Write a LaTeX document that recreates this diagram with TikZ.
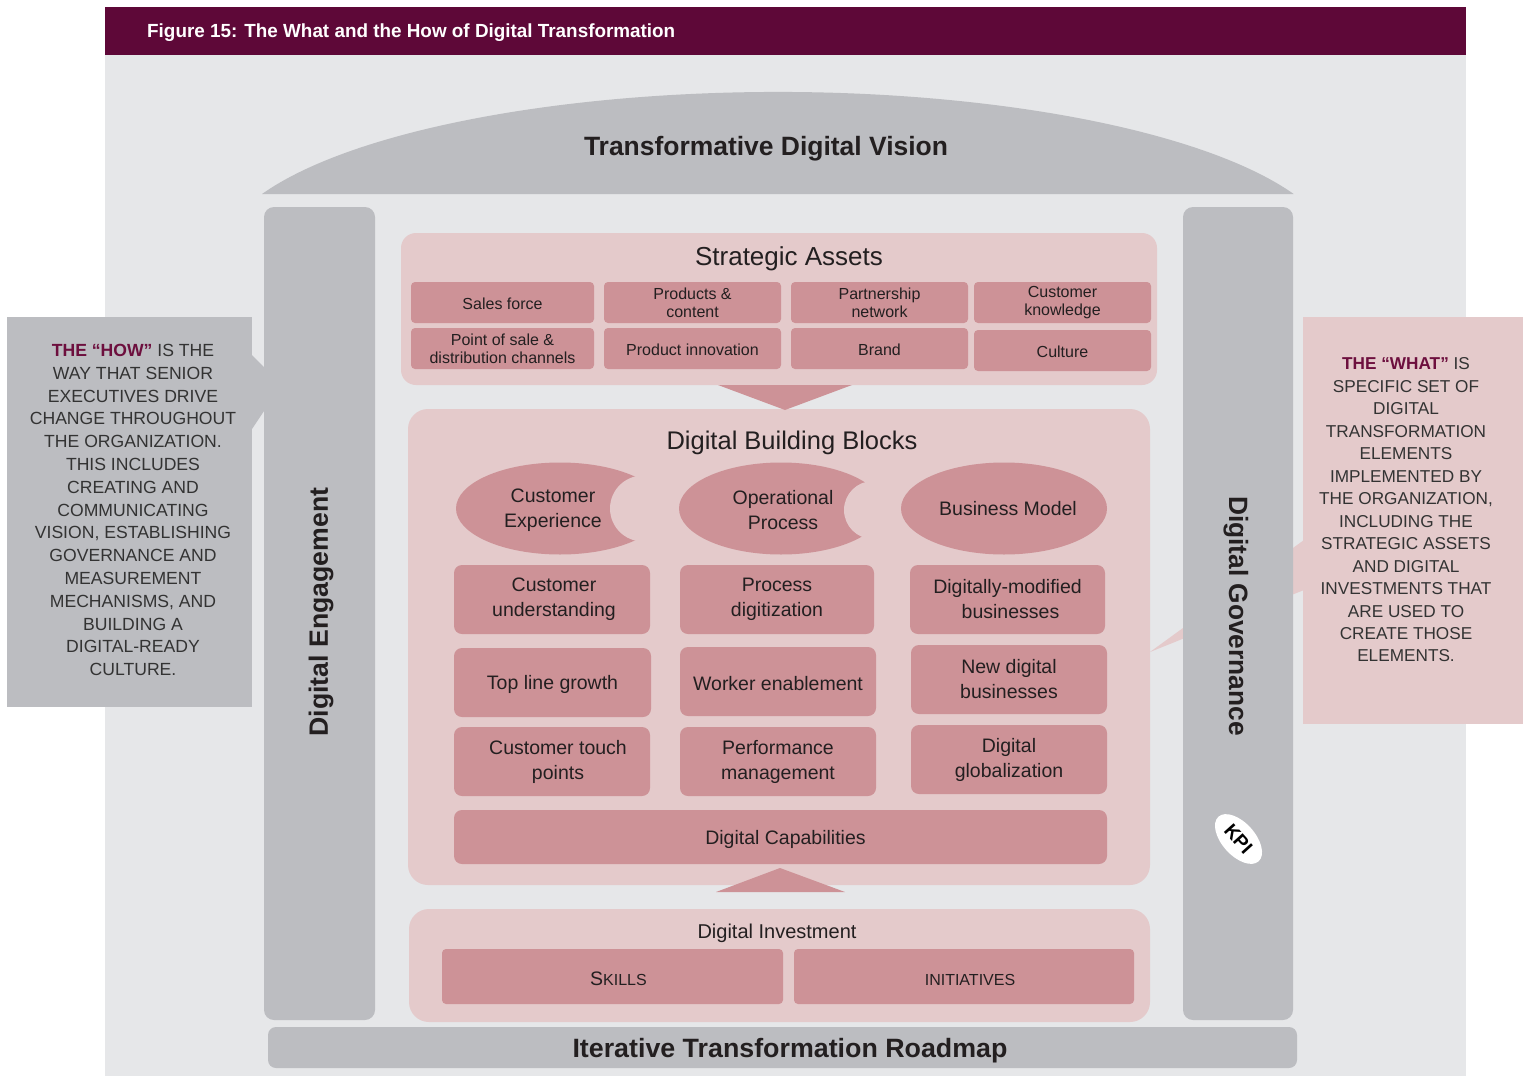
\documentclass[tikz,border=0pt]{standalone}
\usepackage{fontspec}
\setmainfont{Liberation Sans}
\usepackage{graphicx}
\usetikzlibrary{shapes.geometric}
\newcommand\fitw[2]{\resizebox{#1}{\height}{#2}}
\definecolor{bgpanel}{HTML}{E6E7E9}
\definecolor{titlebar}{HTML}{5E0838}
\definecolor{pillar}{HTML}{BCBDC1}
\definecolor{panelpink}{HTML}{E4CACB}
\definecolor{cellpink}{HTML}{CD9297}
\definecolor{txt}{HTML}{231F20}
\definecolor{calltxt}{HTML}{333333}
\definecolor{maroon}{HTML}{6D0F3E}
\begin{document}
\begin{tikzpicture}[x=1pt,y=-1pt,
  pillarbox/.style={fill=pillar, rounded corners=10pt, inner sep=0pt},
  panelbox/.style={fill=panelpink, rounded corners=18pt, inner sep=0pt},
  sacell/.style={fill=cellpink, rounded corners=4pt, inner sep=0pt, text=txt, align=center,
     font=\fontsize{16}{18}\selectfont, execute at begin node={\rule{0pt}{14.5pt}}},
  bbcell/.style={fill=cellpink, rounded corners=8pt, inner sep=0pt, text=txt, align=center,
     font=\fontsize{19.5}{25}\selectfont, execute at begin node={\rule{0pt}{19pt}}},
  lbl/.style={inner sep=0pt, text=txt, align=center},
  headfont/.style={font=\bfseries\fontsize{26.5}{30}\selectfont, text=txt, inner sep=0pt},
  callfont/.style={inner sep=0pt, text=calltxt, align=center, font=\fontsize{17.6}{22.8}\selectfont}
]
\useasboundingbox (0,0) rectangle (1525,1076);
\fill[white] (0,0) rectangle (1525,1076);
% main panel and title bar
\fill[bgpanel] (105,55) rectangle (1466,1076);
\fill[titlebar] (105,7) rectangle (1466,55);
\node[anchor=west, text=white, inner sep=0pt, font=\bfseries\fontsize{19}{22}\selectfont] (title) at (147,32.5)
  {\fitw{528pt}{Figure 15: The What and the How of Digital Transformation}};

% dome
\fill[pillar] (262,194) arc[start angle=157.1, end angle=22.9, x radius=560pt, y radius=167pt] -- cycle;
\node[headfont] (vision) at (766,149) {\fitw{364pt}{Transformative Digital Vision}};

% right callout wedge (behind pillar)
\fill[panelpink] (1304,540) -- (1304,590) -- (1150,652) -- cycle;

% pillars
\node[pillarbox, minimum width=111pt, minimum height=813pt] (eng) at (319.5,613.5) {};
\node[headfont, rotate=90] (englbl) at (321,612) {\fitw{249pt}{Digital Engagement}};
\node[pillarbox, minimum width=110pt, minimum height=813pt] (gov) at (1238,613.5) {};
\node[headfont, rotate=-90] (govlbl) at (1236,616) {\fitw{240pt}{Digital Governance}};
\node[fill=white, ellipse, minimum width=60pt, minimum height=33pt, rotate=-48, inner sep=0pt,
  font=\bfseries\fontsize{19}{19}\selectfont, text=black] (kpi) at (1238.5,839) {KPI};

% roadmap
\node[pillarbox, minimum width=1029pt, minimum height=41pt, rounded corners=8pt] (road) at (782.5,1047.5) {};
\node[headfont] (roadlbl) at (790,1051) {\fitw{435pt}{Iterative Transformation Roadmap}};

% left callout
\fill[pillar] (250,353) -- (266,369) -- (266,408) -- (250,432) -- cycle;
\node[fill=pillar, minimum width=245pt, minimum height=390pt, inner sep=0pt] (how) at (129.5,512) {};
\node[callfont] (howtxt) at (133,510) {{\color{maroon}\bfseries THE “HOW”} IS THE\\
WAY THAT SENIOR\\
EXECUTIVES DRIVE\\
CHANGE THROUGHOUT\\
THE ORGANIZATION.\\
THIS INCLUDES\\
CREATING AND\\
COMMUNICATING\\
VISION, ESTABLISHING\\
GOVERNANCE AND\\
MEASUREMENT\\
MECHANISMS, AND\\
BUILDING A\\
DIGITAL-READY\\
CULTURE.};

% right callout
\node[fill=panelpink, minimum width=220pt, minimum height=407pt, inner sep=0pt] (what) at (1413,520.5) {};
\node[callfont, font=\fontsize{17.2}{22.46}\selectfont] (whattxt) at (1406,510) {{\color{maroon}\bfseries THE “WHAT”} IS\\
SPECIFIC SET OF\\
DIGITAL\\
TRANSFORMATION\\
ELEMENTS\\
IMPLEMENTED BY\\
THE ORGANIZATION,\\
INCLUDING THE\\
STRATEGIC ASSETS\\
AND DIGITAL\\
INVESTMENTS THAT\\
ARE USED TO\\
CREATE THOSE\\
ELEMENTS.};

% Strategic assets
\node[panelbox, rounded corners=15pt, minimum width=756pt, minimum height=152pt] (sa) at (779,309) {};
\node[lbl, font=\fontsize{26}{30}\selectfont] (satitle) at (789,259) {Strategic Assets};
\node[sacell, minimum width=183pt, minimum height=41pt] (sa1) at (502.5,302.5) {Sales force};
\node[sacell, minimum width=177pt, minimum height=41pt] (sa2) at (692.5,302.5) {Products \&\\content};
\node[sacell, minimum width=177pt, minimum height=41pt] (sa3) at (879.5,302.5) {Partnership\\network};
\node[sacell, minimum width=177pt, minimum height=41pt] (sa4) at (1062.5,302.5) {Customer\\knowledge};
\node[sacell, minimum width=183pt, minimum height=41pt] (sa5) at (502.5,348.5) {Point of sale \&\\distribution channels};
\node[sacell, minimum width=177pt, minimum height=41pt] (sa6) at (692.5,348.5) {Product innovation};
\node[sacell, minimum width=177pt, minimum height=41pt] (sa7) at (879.5,348.5) {Brand};
\node[sacell, minimum width=177pt, minimum height=41pt] (sa8) at (1062.5,350.5) {Culture};

% Digital building blocks
\node[panelbox, rounded corners=20pt, minimum width=742pt, minimum height=476pt] (bb) at (779,647) {};
\fill[cellpink] (718,385) -- (852,385) -- (785,410) -- cycle;
\node[lbl, font=\fontsize{25.5}{30}\selectfont] (bbtitle) at (792,443) {Digital Building Blocks};

\fill[cellpink] (560,508.5) ellipse[x radius=104pt, y radius=46pt];
\fill[panelpink] (643,508.5) circle[radius=33pt];
\fill[cellpink] (781,508.5) ellipse[x radius=102pt, y radius=46pt];
\fill[panelpink] (873,510) circle[radius=29pt];
\fill[cellpink] (1004,508.5) ellipse[x radius=103pt, y radius=46pt];
\node[lbl, font=\fontsize{19.5}{25}\selectfont] (ce) at (553,510) {Customer\\Experience};
\node[lbl, font=\fontsize{19.5}{25}\selectfont] (op) at (783,510) {Operational\\Process};
\node[lbl, font=\fontsize{19.5}{25}\selectfont] (bm) at (1008,508.5) {Business Model};

\node[bbcell, minimum width=196pt, minimum height=69pt] (b1) at (552,599.5) {\hspace*{4pt}Customer\\\hspace*{4pt}understanding};
\node[bbcell, minimum width=194pt, minimum height=69pt] (b2) at (777,599.5) {Process\\digitization};
\node[bbcell, minimum width=195pt, minimum height=69pt] (b3) at (1007.5,599.5) {Digitally-modified\\\hspace*{6pt}businesses};
\node[bbcell, minimum width=197pt, minimum height=69pt] (b4) at (552.5,682.5) {Top line growth};
\node[bbcell, minimum width=196pt, minimum height=69pt] (b5) at (778,681.5) {Worker enablement};
\node[bbcell, minimum width=196pt, minimum height=69pt] (b6) at (1009,679.5) {New digital\\businesses};
\node[bbcell, minimum width=196pt, minimum height=69pt] (b7) at (552,761.5) {\hspace*{12pt}Customer touch\\\hspace*{12pt}points};
\node[bbcell, minimum width=196pt, minimum height=69pt] (b8) at (778,761.5) {Performance\\management};
\node[bbcell, minimum width=196pt, minimum height=69pt] (b9) at (1009,759.5) {Digital\\globalization};
\node[bbcell, minimum width=653pt, minimum height=54pt] (cap) at (780.5,837) {\hspace*{10pt}Digital Capabilities};
\fill[cellpink] (716,892) -- (845,892) -- (780,868) -- cycle;

% Digital investment
\node[panelbox, rounded corners=20pt, minimum width=741pt, minimum height=113pt] (di) at (779.5,965.5) {};
\node[lbl, font=\fontsize{20}{24}\selectfont] (dititle) at (777,933) {Digital Investment};
\node[bbcell, rounded corners=4pt, minimum width=341pt, minimum height=55pt,
  execute at begin node={}] (skills) at (612.5,976.5)
  {\hspace*{12pt}{\fontsize{19.5}{20}\selectfont S}{\fontsize{16}{20}\selectfont KILLS}};
\node[bbcell, rounded corners=4pt, minimum width=340pt, minimum height=55pt,
  execute at begin node={}] (init) at (964,976.5)
  {\hspace*{12pt}{\fontsize{16}{20}\selectfont INITIATIVES}};
\end{tikzpicture}
\end{document}
